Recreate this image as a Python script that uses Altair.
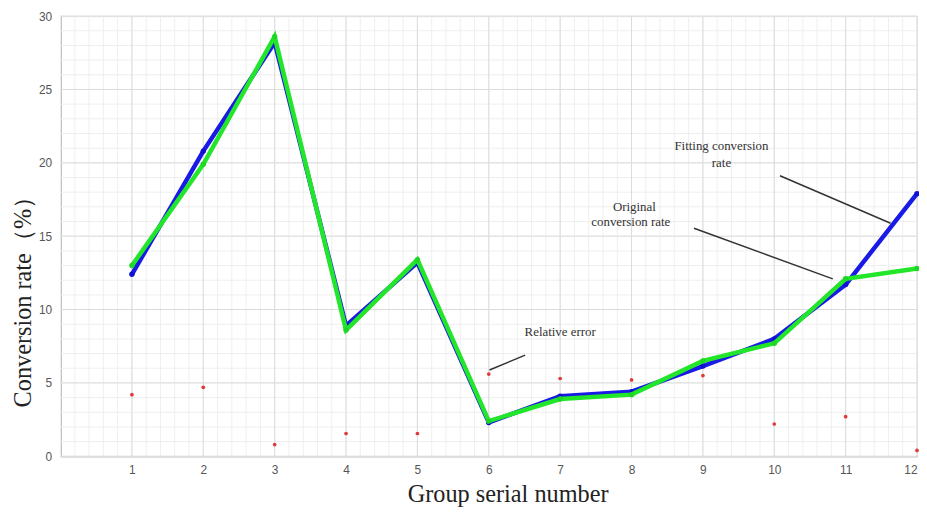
import altair as alt
import pandas as pd

groups = list(range(1, 13))
original = [12.4, 20.8, 28.2, 8.9, 13.2, 2.3, 4.1, 4.4, 6.15, 8.0, 11.7, 17.9]
fitted = [13.0, 19.9, 28.6, 8.6, 13.4, 2.4, 3.9, 4.2, 6.5, 7.7, 12.1, 12.8]
rel_error = [4.2, 4.7, 0.8, 1.55, 1.55, 5.6, 5.3, 5.2, 5.5, 2.2, 2.7, 0.4]

x_ticks = list(range(1, 13))
y_ticks = [0, 5, 10, 15, 20, 25, 30]
minor_x = [i / 5 for i in range(0, 61)]
minor_y = list(range(0, 31))

label_text = ["Fitting conversion", "rate", "Original", "conversion rate", "Relative error"]
label_x = [9.26, 9.26, 8.04, 7.99, 7.0]
label_y = [21.15, 20.0, 17.0, 15.95, 8.5]

lead_x = [10.08, 8.875, 6.51]
lead_x2 = [11.63, 10.82, 6.01]
lead_y = [19.12, 15.54, 6.89]
lead_y2 = [15.88, 12.09, 5.88]

df = pd.DataFrame({"g": groups, "orig": original, "fit": fitted, "err": rel_error})
lab = pd.DataFrame({"t": label_text, "x": label_x, "y": label_y})
lead = pd.DataFrame({"x": lead_x, "x2": lead_x2, "y": lead_y, "y2": lead_y2})
gx = pd.DataFrame({"v": minor_x})
gy = pd.DataFrame({"v": minor_y})
mx = pd.DataFrame({"v": x_ticks})
my = pd.DataFrame({"v": y_ticks})

xs = alt.Scale(domain=[0, 12], nice=False, zero=False)
ys = alt.Scale(domain=[0, 30], nice=False)

xaxis = alt.Axis(values=x_ticks, format="d", title="Group serial number", grid=False, ticks=False,
                 labelPadding=8, labelFontSize=12, labelColor="#555", labelFont="Liberation Sans",
                 domainColor="#999", titleFont="Liberation Serif", titleFontSize=24.5,
                 titleFontWeight="normal", titleColor="#222", titleX=451, titleY=39,
                 titleBaseline="middle", labelFlush=True)
yaxis = alt.Axis(values=y_ticks, format="d", title="Conversion rate（%）", grid=False, ticks=False,
                 labelPadding=9, labelFontSize=12, labelColor="#555", labelFont="Liberation Sans",
                 domainColor="#999", titleFont="Liberation Serif", titleFontSize=24.5,
                 titleFontWeight="normal", titleColor="#222", titleX=-37, titleY=282,
                 titleAngle=-90, titleAlign="center", titleBaseline="middle")

minor_vx = alt.Chart(gx).mark_rule(color="#efefef", strokeWidth=1).encode(
    x=alt.X("v:Q", scale=xs, axis=xaxis))
minor_hy = alt.Chart(gy).mark_rule(color="#efefef", strokeWidth=1).encode(
    y=alt.Y("v:Q", scale=ys, axis=yaxis))
major_vx = alt.Chart(mx).mark_rule(color="#dcdcdc", strokeWidth=1).encode(
    x=alt.X("v:Q", scale=xs))
major_hy = alt.Chart(my).mark_rule(color="#dcdcdc", strokeWidth=1).encode(
    y=alt.Y("v:Q", scale=ys))

base = alt.Chart(df)
blue_line = base.mark_line(color="#1a1ae6", strokeWidth=4.5).encode(
    x=alt.X("g:Q", scale=xs), y=alt.Y("orig:Q", scale=ys))
blue_pts = base.mark_circle(color="#1010d0", size=30, opacity=1).encode(
    x=alt.X("g:Q", scale=xs), y=alt.Y("orig:Q", scale=ys))
green_line = base.mark_line(color="#22e62a", strokeWidth=4.5).encode(
    x=alt.X("g:Q", scale=xs), y=alt.Y("fit:Q", scale=ys))
green_pts = base.mark_circle(color="#1fd626", size=30, opacity=1).encode(
    x=alt.X("g:Q", scale=xs), y=alt.Y("fit:Q", scale=ys))
red_pts = base.mark_circle(color="#e03a3a", size=14, opacity=1).encode(
    x=alt.X("g:Q", scale=xs), y=alt.Y("err:Q", scale=ys))

leads = alt.Chart(lead).mark_rule(color="#333", strokeWidth=1.5).encode(
    x=alt.X("x:Q", scale=xs), x2="x2:Q", y=alt.Y("y:Q", scale=ys), y2="y2:Q")
labels = alt.Chart(lab).mark_text(font="Liberation Serif", fontSize=13, color="#333").encode(
    x=alt.X("x:Q", scale=xs), y=alt.Y("y:Q", scale=ys), text="t:N")

chart = alt.layer(minor_vx, minor_hy, major_vx, major_hy, red_pts, blue_line, blue_pts,
                  green_line, green_pts, leads, labels).properties(
    width=864, height=444,
    autosize=alt.AutoSizeParams(type="none"),
    padding={"left": 53, "top": 6, "right": 2, "bottom": 50},
).configure_view(stroke="#999", strokeWidth=1).configure(background="white")

chart.save("out.html", embed_options={"renderer": "svg", "actions": False})
